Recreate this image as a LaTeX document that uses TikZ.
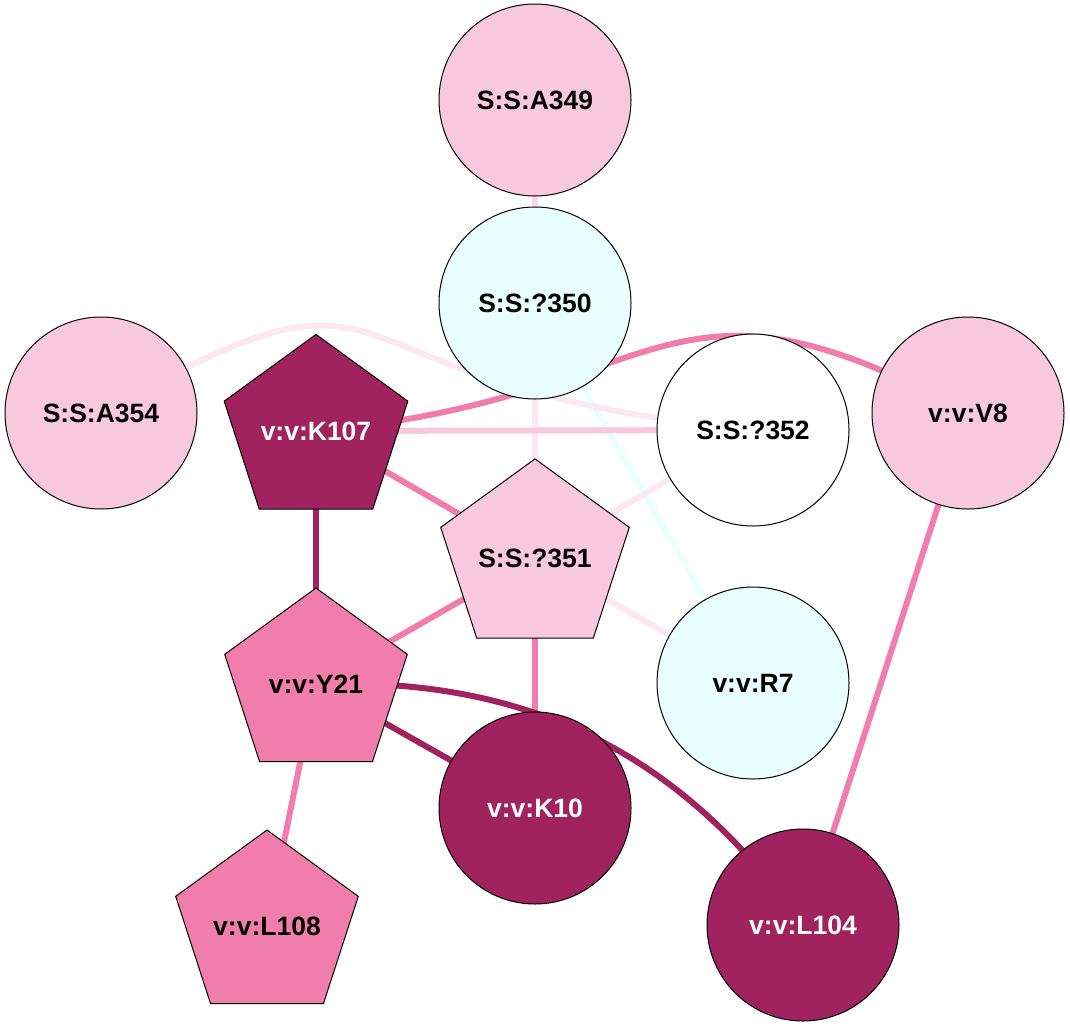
\documentclass[tikz,border=0pt]{standalone}
\usepackage{fontspec}
\setmainfont{Liberation Sans}
\usetikzlibrary{shapes.geometric}
\definecolor{lightpink}{HTML}{F8C8DC}
\definecolor{midpink}{HTML}{F07DAB}
\definecolor{plum}{HTML}{A0235F}
\definecolor{icecyan}{HTML}{E8FFFD}
\definecolor{fadedpink}{HTML}{FCE8F0}
\colorlet{palepink}{lightpink!70!white}
\pgfdeclarelayer{bg}
\pgfsetlayers{bg,main}
\tikzset{
  res/.style={draw, line width=0.5pt, inner sep=0pt, font=\fontsize{13.25}{15}\selectfont\bfseries},
  ball/.style={res, circle, minimum size=96pt},
  penta/.style={res, regular polygon, regular polygon sides=5, minimum size=96pt},
  link/.style={line width=3pt},
}

\begin{document}
\begin{tikzpicture}[x=0.5pt, y=-0.5pt]
  \useasboundingbox (0,0) rectangle (1070,1028);
  % Residues
  \node[ball, fill=lightpink] (a349) at (535,100) {S:S:A349};
  \node[ball, fill=icecyan] (s350) at (535,303) {S:S:?350};
  \node[ball, fill=lightpink] (a354) at (101,413) {S:S:A354};
  \node[penta, fill=plum, text=white] (k107) at (316,431) {v:v:K107};
  \node[ball, fill=white] (s352) at (753,430) {S:S:?352};
  \node[ball, fill=lightpink] (v8) at (968,413) {v:v:V8};
  \node[penta, fill=lightpink] (s351) at (535,558) {S:S:?351};
  \node[penta, fill=midpink] (y21) at (316,684) {v:v:Y21};
  \node[ball, fill=icecyan] (r7) at (753,683) {v:v:R7};
  \node[ball, fill=plum, text=white] (k10) at (535,808) {v:v:K10};
  \node[penta, fill=midpink] (l108) at (267,926) {v:v:L108};
  \node[ball, fill=plum, text=white] (l104) at (803,925) {v:v:L104};

  % Contacts
  \begin{pgfonlayer}{bg}
    \draw[link, palepink] (a349.center) -- (s350.center);
    \draw[link, fadedpink] (s350.center) -- (s351.center);
    \draw[link, icecyan] (s350.center) -- (r7.center);
    \draw[link, fadedpink] (a354.center) .. controls (429,229) and (289,385) .. (s352.center);
    \draw[link, lightpink] (k107.center) -- (s352.center);
    \draw[link, midpink] (k107.center) .. controls (672,399) and (660,245) .. (v8.center);
    \draw[link, midpink] (k107.center) -- (s351.center);
    \draw[link, plum] (k107.center) -- (y21.center);
    \draw[link, fadedpink] (s351.center) -- (s352.center);
    \draw[link, fadedpink] (s351.center) -- (r7.center);
    \draw[link, midpink] (s351.center) -- (y21.center);
    \draw[link, midpink] (s351.center) -- (k10.center);
    \draw[link, plum] (y21.center) -- (k10.center);
    \draw[link, plum] (y21.center) .. controls (528,677) and (680,752) .. (l104.center);
    \draw[link, midpink] (y21.center) -- (l108.center);
    \draw[link, midpink] (v8.center) -- (l104.center);
  \end{pgfonlayer}
\end{tikzpicture}
\end{document}
